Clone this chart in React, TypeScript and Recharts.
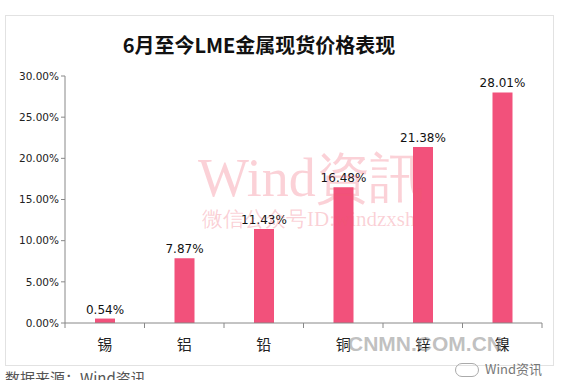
import { BarChart, Bar, XAxis, YAxis, LabelList } from "recharts";

const metals = ["锡", "铝", "铅", "铜", "锌", "镍"];
const changes = [0.0054, 0.0787, 0.1143, 0.1648, 0.2138, 0.2801];
const yTicks = [0, 0.05, 0.1, 0.15, 0.2, 0.25, 0.3];

const data = metals.map((name, i) => ({ name, value: changes[i] }));

const W = 566;
const H = 380;
const X_H = 30;
const M = { top: 76, right: 24, bottom: 57 - X_H, left: 0 };
const Y_W = 65;
const band = (W - M.left - M.right - Y_W) / metals.length;

const pct = (v: number) => (v * 100).toFixed(2) + "%";

function CatTick(props: any) {
  const { x, y, payload, index } = props;
  return (
    <g>
      {index === 0 && (
        <line x1={x - band / 2} y1={y - 8} x2={x - band / 2} y2={y - 3} stroke="#888" />
      )}
      <line x1={x + band / 2} y1={y - 8} x2={x + band / 2} y2={y - 3} stroke="#888" />
      <text x={x} y={y + 19} textAnchor="middle" fontSize={15} fill="#222">
        {payload.value}
      </text>
    </g>
  );
}

export default function App() {
  return (
    <div style={{ position: "absolute", left: 0, top: 0, width: W, height: H, background: "#fff", overflow: "hidden", fontFamily: "'Noto Sans CJK SC', 'DejaVu Sans', sans-serif" }}>
      <div style={{ position: "absolute", left: 5, top: 15, width: 547, height: 349, border: "1px solid #e2e2e2" }} />
      <div style={{ position: "absolute", left: 0, top: 31, width: 518, textAlign: "center", fontSize: 20, fontWeight: 700, color: "#111", lineHeight: "28px" }}>
        6月至今LME金属现货价格表现
      </div>
      <div style={{ position: "absolute", left: 0, top: 0 }}>
        <BarChart width={W} height={H} data={data} margin={M}>
          <YAxis
            width={Y_W}
            domain={[0, 0.3]}
            ticks={yTicks}
            tickFormatter={pct}
            stroke="#888"
            tickSize={4}
            tick={{ fill: "#222", fontSize: 10.5, fontFamily: "DejaVu Sans" }}
          />
          <XAxis dataKey="name" height={X_H} stroke="#888" tickLine={false} tick={<CatTick />} interval={0} />
          <Bar dataKey="value" fill="#F2517B" barSize={20} isAnimationActive={false}>
            <LabelList dataKey="value" position="top" offset={5} formatter={(v: any) => pct(Number(v))} style={{ fill: "#111", fontSize: 12, fontFamily: "DejaVu Sans" }} />
          </Bar>
        </BarChart>
      </div>
      <div style={{ position: "absolute", left: 198, top: 147, fontFamily: "'Liberation Serif', serif", fontSize: 54, color: "rgba(240,90,110,0.28)", lineHeight: "62px", whiteSpace: "nowrap", pointerEvents: "none" }}>
        Wind資訊
      </div>
      <div style={{ position: "absolute", left: 202, top: 206, fontFamily: "'Liberation Serif', serif", fontSize: 21, color: "rgba(240,90,110,0.28)", lineHeight: "26px", whiteSpace: "nowrap", pointerEvents: "none" }}>
        微信公众号ID:windzxsh
      </div>
      <div style={{ position: "absolute", left: 348, top: 330, fontFamily: "'Liberation Sans', Arial, sans-serif", fontWeight: 700, fontSize: 21, color: "rgba(140,140,140,0.55)", lineHeight: "28px", whiteSpace: "nowrap" }}>
        CNMN.COM.CN
      </div>
      <div style={{ position: "absolute", left: 455, top: 360, fontSize: 13, color: "#777", lineHeight: "18px", whiteSpace: "nowrap" }}>
        <span style={{ display: "inline-block", width: 22, height: 12, border: "1px solid #aaa", borderRadius: 8, marginRight: 6, verticalAlign: "middle" }} />
        Wind资讯
      </div>
      <div style={{ position: "absolute", left: 5, top: 368, fontSize: 15, color: "#555", lineHeight: "20px", whiteSpace: "nowrap" }}>
        数据来源：Wind资讯
      </div>
    </div>
  );
}
